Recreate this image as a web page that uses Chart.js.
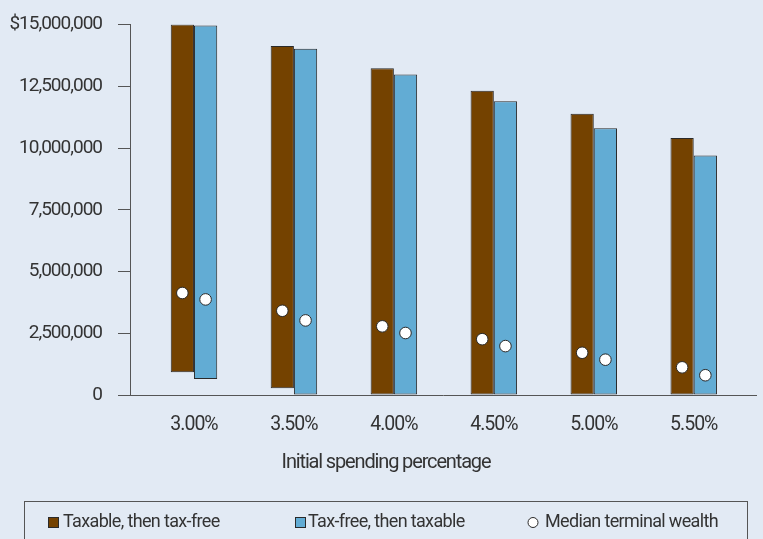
<!DOCTYPE html>
<html>
<head>
<meta charset="utf-8">
<script src="https://cdn.jsdelivr.net/npm/chart.js@4/dist/chart.umd.min.js"></script>
<style>
  html, body { margin: 0; padding: 0; background: #e2eaf4; }
  #wrap { width: 763px; height: 539px; position: relative; }
  canvas { display: block; }
</style>
</head>
<body>
<div id="wrap"><canvas id="chart" width="763" height="539"></canvas></div>
<script>
// Terminal wealth ranges by initial spending rate
const spendingRates = ['3.00%', '3.50%', '4.00%', '4.50%', '5.00%', '5.50%'];
const taxableLow    = [920000, 270000, 0, 0, 0, 0];
const taxableHigh   = [15000000, 14130000, 13230000, 12320000, 11390000, 10400000];
const taxFreeLow    = [650000, 0, 0, 0, 0, 0];
const taxFreeHigh   = [14960000, 14020000, 12980000, 11890000, 10800000, 9700000];
const taxableMedian = [4130000, 3410000, 2780000, 2260000, 1710000, 1120000];
const taxFreeMedian = [3870000, 3020000, 2510000, 1980000, 1430000, 800000];
const yTicks = [0, 2500000, 5000000, 7500000, 10000000, 12500000, 15000000];
const seriesNames = ['Taxable, then tax-free', 'Tax-free, then taxable', 'Median terminal wealth'];
const axisTitle = 'Initial spending percentage';

const FONT = "Roboto, 'DejaVu Sans Condensed', sans-serif";
const TEXT = '#333333';
const AXIS = '#555555';
const EDGE = '#2a2a2a';
const BG = '#e2eaf4';
const BROWN = '#744200';
const BLUE = '#62acd4';

// share of each category slot taken by the pair of bars
const GROUP = 0.465;
// each median marker sits on the centre of its own bar
const shift = GROUP / 4;

const ranges = (lo, hi) => lo.map((v, i) => ({ x: i, y: [v, hi[i]] }));
const medians = [
  ...taxableMedian.map((v, i) => ({ x: i - shift, y: v })),
  ...taxFreeMedian.map((v, i) => ({ x: i + shift, y: v }))
];

// page colour, and tighter tracking so the labels read as a condensed face
const background = {
  id: 'background',
  beforeDraw(chart) {
    const ctx = chart.ctx;
    ctx.save();
    ctx.fillStyle = BG;
    ctx.fillRect(0, 0, chart.width, chart.height);
    ctx.restore();
    ctx.letterSpacing = '-1px';
  }
};

// axis title and the boxed key under the plot
const keyAndTitle = {
  id: 'keyAndTitle',
  afterDraw(chart) {
    const ctx = chart.ctx;
    ctx.save();
    ctx.fillStyle = TEXT;
    ctx.textBaseline = 'middle';
    ctx.textAlign = 'center';
    ctx.letterSpacing = '-1.15px';
    ctx.font = `20px ${FONT}`;
    ctx.fillText(axisTitle, 386, 463);

    ctx.strokeStyle = AXIS;
    ctx.lineWidth = 1;
    ctx.strokeRect(24.5, 501.5, 723, 60);

    const ds = chart.data.datasets;
    const items = [
      { sx: 48, tx: 63, kind: 'rect', ds: ds[1] },
      { sx: 295, tx: 308, kind: 'rect', ds: ds[2] },
      { sx: 528, tx: 545, kind: 'circle', ds: ds[0] }
    ];
    ctx.textAlign = 'left';
    ctx.letterSpacing = '-0.65px';
    ctx.font = `18px ${FONT}`;
    items.forEach(it => {
      if (it.kind === 'rect') {
        ctx.fillStyle = it.ds.backgroundColor;
        ctx.fillRect(it.sx, 517, 11, 11);
        ctx.strokeStyle = EDGE;
        ctx.strokeRect(it.sx + 0.5, 517.5, 10, 10);
      } else {
        ctx.beginPath();
        ctx.arc(it.sx + 5, 522.5, 5, 0, Math.PI * 2);
        ctx.fillStyle = '#ffffff';
        ctx.fill();
        ctx.strokeStyle = EDGE;
        ctx.stroke();
      }
      ctx.fillStyle = TEXT;
      ctx.fillText(it.ds.label, it.tx, 522);
    });
    ctx.restore();
  }
};

new Chart(document.getElementById('chart'), {
  type: 'bar',
  data: {
    datasets: [
      {
        type: 'scatter',
        label: seriesNames[2],
        data: medians,
        order: -1,
        pointRadius: 5.8,
        pointHoverRadius: 5.8,
        pointBackgroundColor: '#ffffff',
        pointBorderColor: EDGE,
        pointBorderWidth: 1
      },
      {
        label: seriesNames[0],
        data: ranges(taxableLow, taxableHigh),
        backgroundColor: BROWN,
        borderColor: EDGE,
        borderWidth: 1,
        borderSkipped: false,
        categoryPercentage: GROUP,
        barPercentage: 1
      },
      {
        label: seriesNames[1],
        data: ranges(taxFreeLow, taxFreeHigh),
        backgroundColor: BLUE,
        borderColor: EDGE,
        borderWidth: 1,
        borderSkipped: false,
        categoryPercentage: GROUP,
        barPercentage: 1
      }
    ]
  },
  options: {
    responsive: false,
    animation: false,
    devicePixelRatio: 1,
    layout: { padding: { top: 24.5, left: 0, right: 0, bottom: 0 } },
    plugins: {
      legend: { display: false },
      tooltip: { enabled: false }
    },
    scales: {
      x: {
        type: 'linear',
        offset: false,
        min: -0.64,
        max: 5.625,
        afterBuildTicks: s => { s.ticks = spendingRates.map((_, i) => ({ value: i })); },
        afterFit: s => { s.height = 144; s.paddingLeft = 0; s.paddingRight = 0; },
        grid: { display: false },
        border: { display: true, color: AXIS, width: 1 },
        ticks: {
          padding: 10,
          color: TEXT,
          autoSkip: false,
          maxRotation: 0,
          font: { family: FONT, size: 19.5 },
          callback: v => spendingRates[v]
        }
      },
      y: {
        min: 0,
        max: 15000000,
        afterBuildTicks: s => { s.ticks = yTicks.map(v => ({ value: v })); },
        afterFit: s => { s.width = 130; s.paddingTop = 0; s.paddingBottom = 0; },
        grid: { display: true, drawOnChartArea: false, drawTicks: true, tickLength: 12, color: AXIS, lineWidth: 1 },
        border: { display: true, color: AXIS, width: 1 },
        ticks: {
          padding: 16,
          color: TEXT,
          font: { family: FONT, size: 19 },
          callback: v => (v === 15000000 ? '$' : '') + v.toLocaleString('en-US')
        }
      }
    }
  },
  plugins: [background, keyAndTitle]
});
</script>
</body>
</html>
